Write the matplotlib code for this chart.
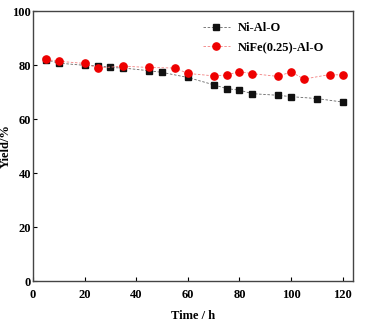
import matplotlib.pyplot as plt
import numpy as np

plt.rcParams['font.family'] = 'Liberation Serif'
plt.rcParams['font.weight'] = 'bold'

# data
t_ni = [5, 10, 20, 25, 30, 35, 45, 50, 60, 70, 75, 80, 85, 95, 100, 110, 120]
y_ni = [82.0, 80.7, 79.9, 79.8, 79.1, 78.9, 77.9, 77.3, 75.4, 72.7, 71.3, 70.7, 69.4, 68.8, 68.3, 67.6, 66.3]
t_fe = [5, 10, 20, 25, 35, 45, 55, 60, 70, 75, 80, 85, 95, 100, 105, 115, 120]
y_fe = [82.1, 81.4, 80.6, 78.9, 79.6, 79.1, 78.9, 76.9, 76.0, 76.3, 77.6, 76.8, 75.8, 77.5, 74.8, 76.5, 76.3]

fig = plt.figure(figsize=(3.68, 3.26), dpi=100)
ax = fig.add_axes([0.09, 0.138, 0.869, 0.828])

ax.plot(t_ni, y_ni, color='#666666', linestyle='--', linewidth=0.6, dashes=(3, 2),
        marker='s', markersize=4.3, markerfacecolor='#111111', markeredgecolor='#111111',
        label='Ni-Al-O')
ax.plot(t_fe, y_fe, color='#f28080', linestyle='--', linewidth=0.6, dashes=(3, 2),
        marker='o', markersize=5.2, markerfacecolor='#ee0000', markeredgecolor='#ee0000',
        label='NiFe(0.25)-Al-O')

ax.set_xlim(0, 124)
ax.set_ylim(0, 100)
ax.set_xticks(np.arange(0, 121, 20))
ax.set_yticks(np.arange(0, 101, 20))
ax.tick_params(direction='in', length=3, labelsize=9, width=0.8)
ax.tick_params(axis='x', pad=6)
ax.tick_params(axis='y', pad=1.5)
for s in ax.spines.values():
    s.set_linewidth(1.0)
    s.set_color('#444444')

ax.set_xlabel('Time / h', fontsize=9, fontweight='bold', labelpad=6)
ax.set_ylabel('Yield/%', fontsize=9, fontweight='bold')
ax.yaxis.set_label_coords(-0.068, 0.5)

leg = ax.legend(loc='upper left', bbox_to_anchor=(0.53, 0.96), frameon=False,
                fontsize=9, handlelength=2.2, labelspacing=0.6,
                borderpad=0, borderaxespad=0, handletextpad=0.6)

plt.savefig('out.png', dpi=100)
